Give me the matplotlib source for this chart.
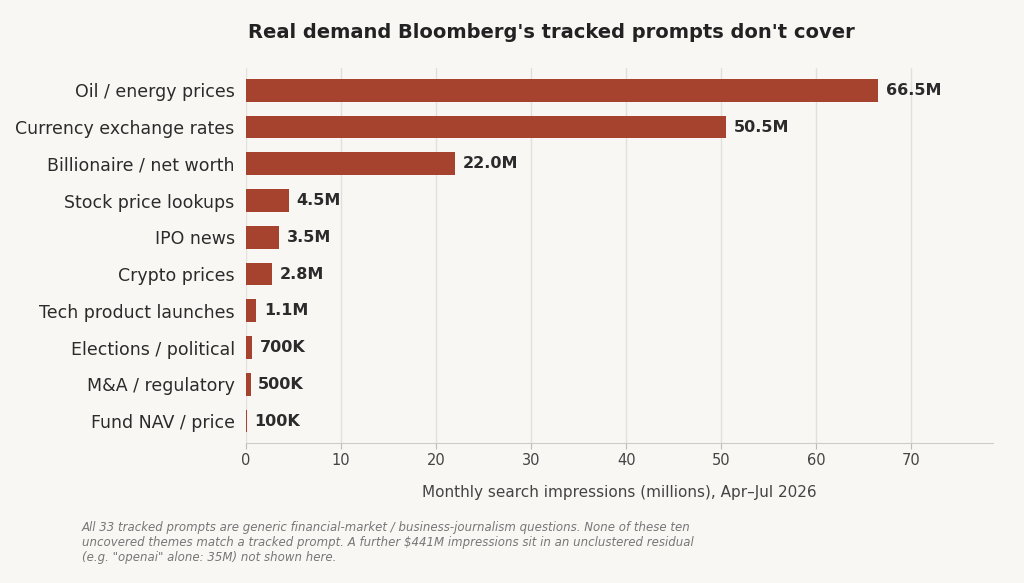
import matplotlib
matplotlib.use("Agg")
import matplotlib.pyplot as plt

categories = ["Oil / energy prices", "Currency exchange rates", "Billionaire / net worth",
              "Stock price lookups", "IPO news", "Crypto prices", "Tech product launches",
              "Elections / political", "M&A / regulatory", "Fund NAV / price"]
values = [66.5, 50.5, 22.0, 4.5, 3.5, 2.8, 1.1, 0.7, 0.5, 0.1]
labels = ["66.5M", "50.5M", "22.0M", "4.5M", "3.5M", "2.8M", "1.1M", "700K", "500K", "100K"]

bg = "#f9f7f4"
fig = plt.figure(figsize=(10.24, 5.83), dpi=100, facecolor=bg)
ax = fig.add_axes([0.24, 0.24, 0.73, 0.643], facecolor=bg)
y = list(range(len(categories)))
ax.barh(y, values, height=0.62, color="#a5432e", zorder=3)
for yi, v, l in zip(y, values, labels):
    ax.text(v + 0.8, yi, l, va="center", ha="left", fontsize=11.5, fontweight="bold", color="#2b2b2b")
ax.set_yticks(y)
ax.set_yticklabels(categories, fontsize=12.5, color="#2b2b2b")
ax.invert_yaxis()
ax.set_ylim(9.6, -0.6)
ax.set_xlim(0, 78.6)
ax.set_xticks(range(0, 80, 10))
ax.tick_params(axis="x", labelsize=10.5, colors="#444444", length=4, color="#bbbbbb")
ax.tick_params(axis="y", length=0, pad=8)
ax.grid(axis="x", color="#e3e0db", linewidth=1, zorder=0)
for s in ["top", "right", "left"]:
    ax.spines[s].set_visible(False)
ax.spines["bottom"].set_color("#cccccc")
ax.set_xlabel("Monthly search impressions (millions), Apr–Jul 2026", fontsize=11, color="#444444", labelpad=12)
fig.text(0.538, 0.945, "Real demand Bloomberg's tracked prompts don't cover", ha="center", va="center",
         fontsize=14, fontweight="bold", color="#222222")
fig.text(0.08, 0.032,
         "All 33 tracked prompts are generic financial-market / business-journalism questions. None of these ten\n"
         "uncovered themes match a tracked prompt. A further $441M impressions sit in an unclustered residual\n"
         "(e.g. \"openai\" alone: 35M) not shown here.",
         ha="left", va="bottom", fontsize=8.5, style="italic", color="#777777", linespacing=1.2)
fig.savefig("out.png", dpi=100, facecolor=bg)
